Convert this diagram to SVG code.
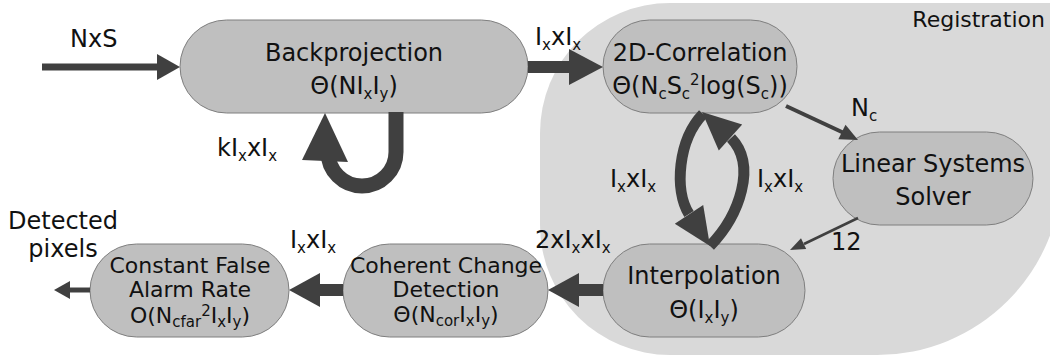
<svg xmlns="http://www.w3.org/2000/svg" width="1050" height="358" viewBox="0 0 1050 358">
<style>
text{font-family:"DejaVu Sans","Liberation Sans",sans-serif;fill:#111}
.big{font-size:24px;text-anchor:middle}
.med{font-size:22px;text-anchor:middle}
.lbl{font-size:24px}
.s{font-size:15px}
.node{fill:#bfbfbf;stroke:#7f7f7f;stroke-width:1}
.ln{stroke:#404040;fill:none}
.ah{fill:#404040}
</style>
<rect width="1050" height="358" fill="#ffffff"/>
<g id="registration">
<path d="M 670 3 L 1062 3 L 1062 170 A 185 185 0 0 1 877 355 L 670 355 A 130 130 0 0 1 540 225 L 540 133 A 130 130 0 0 1 670 3 Z" fill="#d9d9d9"/>
<text x="1045" y="27" style="font-size:22px;text-anchor:end">Registration</text>
</g>
<g id="backprojection">
<rect class="node" x="180" y="20" width="348" height="93" rx="46.5"/>
<text class="big" x="354" y="61">Backprojection</text>
<text class="big" x="354" y="94">Θ(NI<tspan class="s" dy="5">x</tspan><tspan dy="-5">I</tspan><tspan class="s" dy="5">y</tspan><tspan dy="-5">)</tspan></text>
</g>
<g id="correlation">
<rect class="node" x="603" y="20" width="194" height="93" rx="46.5"/>
<text class="big" x="700" y="61">2D-Correlation</text>
<text class="big" x="700" y="94">Θ(N<tspan class="s" dy="5">c</tspan><tspan dy="-5">S</tspan><tspan class="s" dy="5">c</tspan><tspan class="s" dy="-14">2</tspan><tspan dy="9">log(S</tspan><tspan class="s" dy="5">c</tspan><tspan dy="-5">))</tspan></text>
</g>
<g id="solver">
<rect class="node" x="833" y="132" width="200" height="93" rx="46.5"/>
<text class="big" x="933" y="172">Linear Systems</text>
<text class="big" x="933" y="205">Solver</text>
</g>
<g id="interpolation">
<rect class="node" x="603" y="244" width="202" height="93" rx="46.5"/>
<text class="big" x="704" y="284">Interpolation</text>
<text class="big" x="704" y="318">Θ(I<tspan class="s" dy="5">x</tspan><tspan dy="-5">I</tspan><tspan class="s" dy="5">y</tspan><tspan dy="-5">)</tspan></text>
</g>
<g id="ccd">
<rect class="node" x="343" y="244" width="205" height="93" rx="46.5"/>
<text class="med" x="446" y="273">Coherent Change</text>
<text class="med" x="446" y="297">Detection</text>
<text class="med" x="446" y="322">Θ(N<tspan class="s" dy="4">cor</tspan><tspan dy="-4">I</tspan><tspan class="s" dy="4">x</tspan><tspan dy="-4">I</tspan><tspan class="s" dy="4">y</tspan><tspan dy="-4">)</tspan></text>
</g>
<g id="cfar">
<rect class="node" x="90" y="244" width="199" height="93" rx="46.5"/>
<text class="med" x="190" y="273">Constant False</text>
<text class="med" x="190" y="297">Alarm Rate</text>
<text class="med" x="190" y="323">O(N<tspan class="s" dy="4">cfar</tspan><tspan class="s" dy="-11">2</tspan><tspan dy="7">I</tspan><tspan class="s" dy="4">x</tspan><tspan dy="-4">I</tspan><tspan class="s" dy="4">y</tspan><tspan dy="-4">)</tspan></text>
</g>
<g id="connectors">
<line class="ln" x1="42" y1="67" x2="160" y2="67" stroke-width="7"/>
<polygon class="ah" points="180,67 157,54 157,80"/>
<line class="ln" x1="528" y1="67" x2="572" y2="67" stroke-width="12"/>
<polygon class="ah" points="603,67 569,49 569,85"/>
<path class="ln" d="M 396 112 L 396 152 A 34 34 0 0 1 328 152 L 327 158" stroke-width="15"/>
<polygon class="ah" points="325,113 302,160 348,162"/>
<line class="ln" x1="786" y1="106" x2="844" y2="133" stroke-width="4"/>
<polygon class="ah" points="858,140 838.3,139.2 845.5,124.8"/>
<line class="ln" x1="858" y1="218" x2="804" y2="244" stroke-width="2.5"/>
<polygon class="ah" points="790,250 806.2,249 801,238.2"/>
<path class="ln" d="M 703 114 C 678 140, 674 190, 689 214" stroke-width="11"/>
<polygon class="ah" points="710,246 674.8,223.7 703.2,205"/>
<path class="ln" d="M 710 246 C 740 215, 757 165, 731 138" stroke-width="11"/>
<polygon class="ah" points="702,112 742.2,124.4 718.8,150.6"/>
<line class="ln" x1="603" y1="290" x2="575" y2="290" stroke-width="12"/>
<polygon class="ah" points="548,290 579,273 579,307"/>
<line class="ln" x1="343" y1="290" x2="316" y2="290" stroke-width="12"/>
<polygon class="ah" points="289,290 320,273 320,307"/>
<line class="ln" x1="90" y1="290" x2="66" y2="290" stroke-width="5"/>
<polygon class="ah" points="54,290 70,281 70,299"/>
<text class="lbl" x="70" y="47">NxS</text>
<text class="lbl" x="535" y="45">I<tspan class="s" dy="5">x</tspan><tspan dy="-5">xI</tspan><tspan class="s" dy="5">x</tspan></text>
<text class="lbl" x="217" y="156">kI<tspan class="s" dy="5">x</tspan><tspan dy="-5">xI</tspan><tspan class="s" dy="5">x</tspan></text>
<text class="lbl" x="851" y="116">N<tspan class="s" dy="5">c</tspan></text>
<text class="lbl" x="831" y="250">12</text>
<text class="lbl" x="610" y="187">I<tspan class="s" dy="5">x</tspan><tspan dy="-5">xI</tspan><tspan class="s" dy="5">x</tspan></text>
<text class="lbl" x="757" y="187">I<tspan class="s" dy="5">x</tspan><tspan dy="-5">xI</tspan><tspan class="s" dy="5">x</tspan></text>
<text class="lbl" x="535" y="248">2xI<tspan class="s" dy="5">x</tspan><tspan dy="-5">xI</tspan><tspan class="s" dy="5">x</tspan></text>
<text class="lbl" x="290" y="248">I<tspan class="s" dy="5">x</tspan><tspan dy="-5">xI</tspan><tspan class="s" dy="5">x</tspan></text>
<text class="lbl" x="63" y="229" text-anchor="middle">Detected</text>
<text class="lbl" x="63" y="257" text-anchor="middle">pixels</text>
</g>
</svg>
